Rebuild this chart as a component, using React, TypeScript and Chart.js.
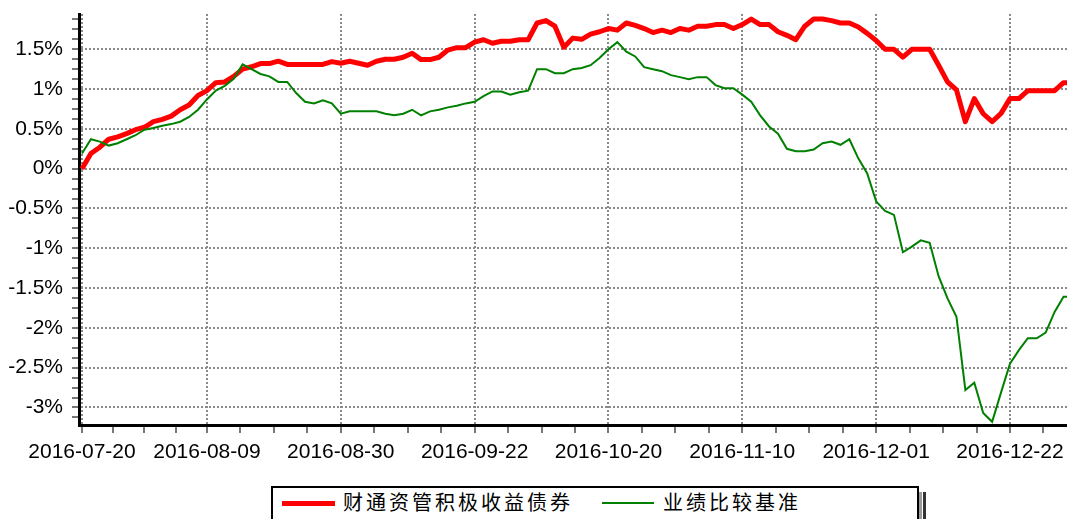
import React, { useEffect, useRef } from 'react';
import { Chart, registerables } from 'chart.js';

Chart.register(...registerables);

const fundName = '财通资管积极收益债券';
const benchName = '业绩比较基准';

const tickIndices = [0, 14, 29, 44, 59, 74, 89, 104];
const tickLabels = [
  '2016-07-20', '2016-08-09', '2016-08-30', '2016-09-22',
  '2016-10-20', '2016-11-10', '2016-12-01', '2016-12-22',
];

const fundValues = [
  0, 0.19, 0.27, 0.37, 0.40, 0.44, 0.49, 0.52, 0.59, 0.62,
  0.66, 0.74, 0.80, 0.92, 0.98, 1.08, 1.09, 1.16, 1.25, 1.28,
  1.32, 1.32, 1.35, 1.31, 1.31, 1.31, 1.31, 1.31, 1.345, 1.325,
  1.35, 1.325, 1.30, 1.35, 1.375, 1.375, 1.40, 1.45, 1.37, 1.37,
  1.40, 1.49, 1.52, 1.52, 1.59, 1.62, 1.575, 1.60, 1.60, 1.62,
  1.62, 1.83, 1.86, 1.79, 1.525, 1.64, 1.625, 1.69, 1.72, 1.76,
  1.74, 1.83, 1.80, 1.76, 1.71, 1.74, 1.71, 1.76, 1.74, 1.79,
  1.79, 1.81, 1.81, 1.76, 1.81, 1.88, 1.81, 1.81, 1.72, 1.675,
  1.62, 1.79, 1.88, 1.88, 1.86, 1.83, 1.83, 1.78, 1.70, 1.61,
  1.50, 1.50, 1.40, 1.50, 1.50, 1.50, 1.30, 1.09, 0.99, 0.59,
  0.88, 0.69, 0.59, 0.695, 0.88, 0.88, 0.98, 0.98, 0.98, 0.98,
  1.08, 1.08,
];

const benchValues = [
  0.19, 0.37, 0.34, 0.29, 0.32, 0.37, 0.42, 0.49, 0.51, 0.54,
  0.56, 0.59, 0.65, 0.74, 0.87, 0.98, 1.04, 1.13, 1.31, 1.25,
  1.19, 1.16, 1.09, 1.09, 0.95, 0.84, 0.82, 0.86, 0.82, 0.69,
  0.72, 0.72, 0.72, 0.72, 0.69, 0.67, 0.69, 0.74, 0.67, 0.72,
  0.74, 0.77, 0.79, 0.82, 0.84, 0.91, 0.97, 0.97, 0.93, 0.96,
  0.98, 1.25, 1.25, 1.20, 1.20, 1.25, 1.265, 1.30, 1.39, 1.50,
  1.59, 1.47, 1.41, 1.275, 1.25, 1.225, 1.175, 1.15, 1.125, 1.15,
  1.15, 1.05, 1.01, 1.01, 0.93, 0.84, 0.67, 0.53, 0.44, 0.25,
  0.22, 0.22, 0.24, 0.32, 0.34, 0.30, 0.37, 0.13, -0.06, -0.41,
  -0.53, -0.58, -1.05, -0.98, -0.90, -0.93, -1.35, -1.63, -1.86, -2.78,
  -2.69, -3.07, -3.18, -2.81, -2.45, -2.28, -2.13, -2.13, -2.06, -1.80,
  -1.61, -1.61,
];

const Y_MIN = -3.22;
const Y_MAX = 1.943;
const Y_MAJOR = 0.5;
const Y_MINOR = 0.125;
const X_MIN = -0.336;
const X_MAX = 110.39;

const isMajorY = (v: number) => Math.abs(v / Y_MAJOR - Math.round(v / Y_MAJOR)) < 1e-6;
const majorXIndex = (v: number) => tickIndices.findIndex((m) => Math.abs(m - v) < 1e-6);

function buildXTicks(max: number) {
  const out: number[] = [];
  for (let k = 0; k < tickIndices.length - 1; k++) {
    const a = tickIndices[k];
    const b = tickIndices[k + 1];
    for (let j = 0; j < 4; j++) out.push(a + ((b - a) * j) / 4);
  }
  const last = tickIndices[tickIndices.length - 1];
  const step = (last - tickIndices[tickIndices.length - 2]) / 4;
  for (let v = last; v <= max + 1e-9; v += step) out.push(v);
  return out;
}

function buildYTicks(min: number, max: number) {
  const out: number[] = [];
  const start = Math.ceil(min / Y_MINOR - 1e-9);
  const end = Math.floor(max / Y_MINOR + 1e-9);
  for (let k = start; k <= end; k++) out.push(k * Y_MINOR);
  return out;
}

const tickFont = { family: '"Liberation Sans", Arial, sans-serif', size: 21 };
const cjkFont = '"Noto Sans CJK SC", "Noto Sans CJK JP", sans-serif';

function LineChart() {
  const ref = useRef<HTMLCanvasElement>(null);
  useEffect(() => {
    const canvas = ref.current;
    if (!canvas) return;
    const chart = new Chart(canvas, {
      type: 'line',
      data: {
        datasets: [
          {
            label: fundName,
            data: fundValues.map((v, i) => ({ x: i, y: v })),
            borderColor: '#ff0000',
            backgroundColor: '#ff0000',
            borderWidth: 5,
            pointRadius: 0,
            tension: 0,
            borderJoinStyle: 'round',
            order: 2,
          },
          {
            label: benchName,
            data: benchValues.map((v, i) => ({ x: i, y: v })),
            borderColor: '#008000',
            backgroundColor: '#008000',
            borderWidth: 2,
            pointRadius: 0,
            tension: 0,
            order: 1,
          },
        ],
      },
      options: {
        responsive: false,
        animation: false,
        devicePixelRatio: 1,
        events: [],
        layout: { padding: { top: 14, right: 0, bottom: 54, left: 0 } },
        plugins: { legend: { display: false }, tooltip: { enabled: false }, title: { display: false } },
        scales: {
          x: {
            type: 'linear',
            min: X_MIN,
            max: X_MAX,
            bounds: 'data',
            afterBuildTicks: (s: any) => {
              s.ticks = buildXTicks(s.max).map((v) => ({ value: v }));
            },
            afterFit: (s: any) => {
              s.height = 40;
              s.paddingLeft = 0;
              s.paddingRight = 0;
            },
            ticks: {
              autoSkip: false,
              maxRotation: 0,
              minRotation: 0,
              padding: 7,
              color: '#000',
              font: tickFont,
              callback: (v: any) => {
                const k = majorXIndex(Number(v));
                return k >= 0 ? tickLabels[k] : '';
              },
            },
            grid: {
              color: (c: any) => (c.tick && majorXIndex(c.tick.value) >= 0 ? '#8a8a8a' : 'rgba(0,0,0,0)'),
              lineWidth: 2,
              tickLength: 8,
              tickColor: '#777',
              tickWidth: 2,
              tickBorderDash: [],
            },
            border: { display: true, color: '#000', width: 3, dash: [2, 2] },
          },
          y: {
            type: 'linear',
            min: Y_MIN,
            max: Y_MAX,
            bounds: 'data',
            afterBuildTicks: (s: any) => {
              s.ticks = buildYTicks(s.min, s.max).map((v) => ({ value: v }));
            },
            afterFit: (s: any) => {
              s.width = 79;
              s.paddingTop = 0;
              s.paddingBottom = 0;
            },
            ticks: {
              autoSkip: false,
              padding: 9,
              color: '#000',
              font: tickFont,
              callback: (v: any) => {
                const n = Number(v);
                return isMajorY(n) ? `${Number((Math.round(n * 10) / 10).toFixed(1))}%` : '';
              },
            },
            grid: {
              color: (c: any) => (c.tick && isMajorY(c.tick.value) ? '#8a8a8a' : 'rgba(0,0,0,0)'),
              lineWidth: 2,
              tickLength: 7,
              tickColor: '#777',
              tickWidth: 2,
              tickBorderDash: [],
            },
            border: { display: true, color: '#000', width: 3, dash: [2, 2] },
          },
        },
      },
    } as any);
    return () => chart.destroy();
  }, []);
  return <canvas ref={ref} width={1067} height={519} style={{ position: 'absolute', left: 0, top: 0, width: 1067, height: 519 }} />;
}

function Legend() {
  const textStyle: React.CSSProperties = {
    position: 'absolute',
    top: 489,
    height: 26,
    lineHeight: '26px',
    fontFamily: cjkFont,
    fontSize: 20,
    letterSpacing: 3,
    color: '#000',
    whiteSpace: 'nowrap',
  };
  return (
    <>
      <div style={{ position: 'absolute', left: 919, top: 492, width: 3, height: 40, background: '#9a9a9a' }} />
      <div style={{ position: 'absolute', left: 923, top: 492, width: 3, height: 40, background: '#333' }} />
      <div
        style={{
          position: 'absolute', left: 271, top: 486, width: 648, height: 50,
          border: '2px solid #000', boxSizing: 'border-box', background: '#fff',
        }}
      />
      <div style={{ position: 'absolute', left: 282, top: 501, width: 53, height: 5, background: '#ff0000' }} />
      <div style={{ ...textStyle, left: 343 }}>{fundName}</div>
      <div style={{ position: 'absolute', left: 602, top: 502, width: 52, height: 2, background: '#008000' }} />
      <div style={{ ...textStyle, left: 663 }}>{benchName}</div>
    </>
  );
}

export default function App() {
  return (
    <div style={{ position: 'absolute', left: 0, top: 0, width: 1067, height: 519, overflow: 'hidden', background: '#fff' }}>
      <LineChart />
      <Legend />
    </div>
  );
}
